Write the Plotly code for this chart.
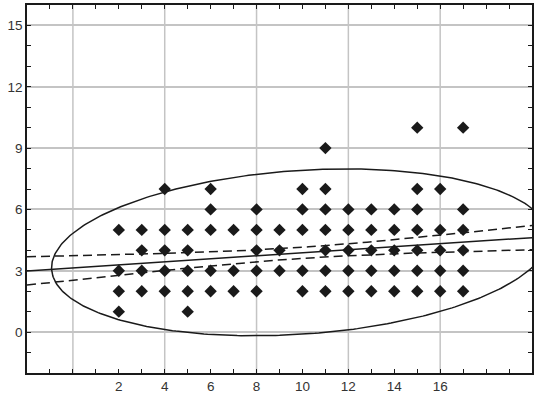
import numpy as np
import plotly.graph_objects as go

# ---- data ----
x_cols = [2, 3, 4, 5, 6, 7, 8, 9, 10, 11, 12, 13, 14, 15, 16, 17]
y_vals = [
    [5, 3, 2, 1],
    [5, 4, 3, 2],
    [7, 5, 4, 3, 2],
    [5, 4, 3, 2, 1],
    [7, 6, 5, 3, 2],
    [5, 3, 2],
    [6, 5, 4, 3, 2],
    [5, 4, 3],
    [7, 6, 5, 3, 2],
    [9, 7, 6, 5, 4, 3, 2],
    [6, 5, 4, 3, 2],
    [6, 5, 4, 3, 2],
    [6, 5, 4, 3, 2],
    [10, 7, 6, 5, 4, 3, 2],
    [7, 5, 4, 3, 2],
    [10, 6, 5, 4, 3, 2],
]
x_tick_labels = [2, 4, 6, 8, 10, 12, 14, 16]
y_tick_labels = [0, 3, 6, 9, 12, 15]
x_grid = [0, 4, 8, 12, 16]

# regression fit
fit_intercept = 3.14
fit_slope = 0.074
# confidence band of the mean: half-width^2 = band_a + band_b*(x - band_xc)^2
band_a = 0.073
band_b = 0.0028
band_xc = 10.0
# ellipse (centre and covariance-like matrix)
ell_cx, ell_cy = 9.9, 3.9
ell_sxx, ell_syy, ell_sxy = 117.3, 16.65, 8.16

X_RANGE = [-2, 20]
Y_RANGE = [-2, 16]

px, py = [], []
for xc, ys in zip(x_cols, y_vals):
    for yv in ys:
        px.append(xc)
        py.append(yv)

xs = np.linspace(X_RANGE[0], X_RANGE[1], 200)
fit = fit_intercept + fit_slope * xs
half = np.sqrt(band_a + band_b * (xs - band_xc) ** 2)

t = np.linspace(0, 2 * np.pi, 400)
k = ell_sxy / ell_sxx
R = ell_syy - ell_sxy ** 2 / ell_sxx
ex = ell_cx + np.sqrt(ell_sxx) * np.cos(t)
ey = ell_cy + k * np.sqrt(ell_sxx) * np.cos(t) + np.sqrt(R) * np.sin(t)

fig = go.Figure()
LC = "#1a1a1a"
fig.add_trace(go.Scatter(x=ex, y=ey, mode="lines", line=dict(color=LC, width=1.5), hoverinfo="skip"))
fig.add_trace(go.Scatter(x=xs, y=fit + half, mode="lines", line=dict(color=LC, width=1.5, dash="9px,5px")))
fig.add_trace(go.Scatter(x=xs, y=fit - half, mode="lines", line=dict(color=LC, width=1.5, dash="9px,5px")))
fig.add_trace(go.Scatter(x=xs, y=fit, mode="lines", line=dict(color=LC, width=1.5)))
fig.add_trace(go.Scatter(x=px, y=py, mode="markers",
                         marker=dict(symbol="diamond", size=9.5, color=LC, line=dict(width=0))))

for gx in x_grid:
    fig.add_shape(type="line", x0=gx, x1=gx, y0=Y_RANGE[0], y1=Y_RANGE[1],
                  xref="x", yref="y", layer="below", line=dict(color="#c4c4c4", width=1.5))

axis_common = dict(
    showline=True, linecolor="#1a1a1a", linewidth=1.5, mirror="allticks",
    ticks="inside", ticklen=4, tickcolor="#1a1a1a", tickwidth=1,
    zeroline=False, automargin=False,
    tickfont=dict(family="Liberation Sans, Arial, sans-serif", size=13.5, color="#333333"),
)

fig.update_layout(
    width=550, height=398,
    margin=dict(l=27, r=18, t=5, b=25),
    paper_bgcolor="white", plot_bgcolor="white",
    showlegend=False,
    xaxis=dict(range=X_RANGE, tickmode="array", tickvals=x_tick_labels,
               showgrid=False,
               minor=dict(dtick=1, tick0=0, ticks="inside", ticklen=4, tickcolor="#1a1a1a", showgrid=False),
               **axis_common),
    yaxis=dict(range=Y_RANGE, tickmode="array", tickvals=y_tick_labels,
               showgrid=True, gridcolor="#c4c4c4", gridwidth=1.5,
               minor=dict(dtick=1, tick0=0, ticks="inside", ticklen=4, tickcolor="#1a1a1a", showgrid=False),
               **axis_common),
)

fig.write_html("out.html", config={"displayModeBar": False},
               post_script="document.body.style.margin='0';document.body.style.padding='0';")
